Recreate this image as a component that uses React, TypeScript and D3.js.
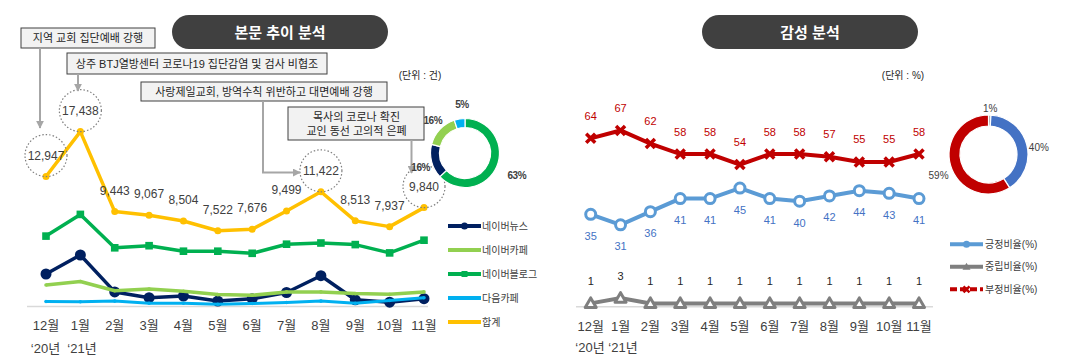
import * as d3 from "d3";

// months shown on both charts
const months = ["12월", "1월", "2월", "3월", "4월", "5월", "6월", "7월", "8월", "9월", "10월", "11월"];
const yearLabels = ["‘20년", "‘21년"];

// 본문 추이 (건)
const totalCounts = [12947, 17438, 9443, 9067, 8504, 7522, 7676, 9499, 11422, 8513, 7937, 9840];
const blogCounts = [6990, 9160, 5820, 6030, 5480, 5480, 5270, 6180, 6300, 6140, 5310, 6580];
const newsCounts = [3200, 5100, 1410, 830, 1000, 490, 730, 1350, 3030, 620, 380, 730];
const cafeCounts = [2100, 2450, 1520, 1690, 1480, 1140, 1070, 1410, 1410, 1240, 1170, 1410];
const daumCounts = [450, 420, 490, 280, 280, 180, 250, 350, 490, 280, 560, 830];
const circledIdx = [0, 1, 8, 11];

const sourceNames = ["네이버블로그", "네이버뉴스", "네이버카페", "다음카페"];
const sourceShare = [63, 16, 16, 5];

// 감성 분석 (%)
const positiveRate = [35, 31, 36, 41, 41, 45, 41, 40, 42, 44, 43, 41];
const neutralRate = [1, 3, 1, 1, 1, 1, 1, 1, 1, 1, 1, 1];
const negativeRate = [64, 67, 62, 58, 58, 54, 58, 58, 57, 55, 55, 58];

const sentimentNames = ["중립", "긍정", "부정"];
const sentimentShare = [1, 40, 59];

const annotations = [
  "지역 교회 집단예배 강행",
  "상주 BTJ열방센터 코로나19 집단감염 및 검사 비협조",
  "사랑제일교회, 방역수칙 위반하고 대면예배 강행",
  ["목사의 코로나 확진", "교인 동선 고의적 은폐"],
];

const FONT = "'Liberation Sans', Arial, 'Noto Sans CJK KR', sans-serif";
const TXT = "#404040";

const xL = d3.scalePoint<string>().domain(months).range([46, 424]);
const yL = d3.scaleLinear().domain([0, 18000]).range([306, 126]);
const xR = d3.scalePoint<string>().domain(months).range([590.7, 919]);
const yR = d3.scaleLinear().domain([0, 70]).range([306, 122.6]);

const lineL = d3.line<number>().x((_, i) => xL(months[i])!).y((d) => yL(d));
const lineR = d3.line<number>().x((_, i) => xR(months[i])!).y((d) => yR(d));

const leftSeries = [
  { name: "네이버뉴스", color: "#002060", values: newsCounts, marker: "circle" },
  { name: "네이버카페", color: "#92D050", values: cafeCounts, marker: "dot" },
  { name: "네이버블로그", color: "#00B050", values: blogCounts, marker: "square" },
  { name: "다음카페", color: "#00B0F0", values: daumCounts, marker: "dot" },
  { name: "합계", color: "#FFC000", values: totalCounts, marker: "small" },
];

const sourceColors = ["#00B050", "#002060", "#92D050", "#00B0F0"];
const sentimentColors = ["#A6A6A6", "#4472C4", "#C00000"];

function Marker({ kind, x, y, color }: { kind: string; x: number; y: number; color: string }) {
  if (kind === "circle") return <circle cx={x} cy={y} r={5.5} fill={color} />;
  if (kind === "square") return <rect x={x - 3.8} y={y - 3.8} width={7.6} height={7.6} fill={color} />;
  if (kind === "small") return <circle cx={x} cy={y} r={3.5} fill={color} />;
  if (kind === "dot") return <circle cx={x} cy={y} r={1.8} fill={color} />;
  if (kind === "ring") return <circle cx={x} cy={y} r={5} fill="#fff" stroke={color} strokeWidth={3} />;
  if (kind === "tri")
    return (
      <path
        d={`M${x},${y - 5.5}L${x + 5.5},${y + 4}L${x - 5.5},${y + 4}Z`}
        fill="#fff"
        stroke={color}
        strokeWidth={3}
        strokeLinejoin="round"
      />
    );
  if (kind === "x")
    return (
      <path
        d={`M${x - 4.5},${y - 4.5}L${x + 4.5},${y + 4.5}M${x + 4.5},${y - 4.5}L${x - 4.5},${y + 4.5}`}
        stroke={color}
        strokeWidth={3.5}
      />
    );
  return null;
}

function Donut({
  cx, cy, inner, outer, values, colors, labelR, bold, dx, dy,
}: {
  cx: number; cy: number; inner: number; outer: number; values: number[]; colors: string[];
  labelR: number; bold: boolean; dx: number; dy: number;
}) {
  const arcs = d3.pie<number>().sort(null).value((d) => d)(values);
  const arc = d3.arc<d3.PieArcDatum<number>>().innerRadius(inner).outerRadius(outer);
  const labelArc = d3.arc<d3.PieArcDatum<number>>().innerRadius(labelR).outerRadius(labelR);
  return (
    <g transform={`translate(${cx},${cy})`}>
      {arcs.map((a, i) => (
        <path key={i} d={arc(a)!} fill={colors[i]} stroke="#fff" strokeWidth={1.2} />
      ))}
      {arcs.map((a, i) => {
        const [lx, ly] = labelArc.centroid(a);
        return (
          <text
            key={"t" + i}
            x={lx + dx}
            y={ly + dy}
            textAnchor="middle"
            dominantBaseline="central"
            fontSize={10}
            fontWeight={bold ? 700 : 400}
            fill={TXT}
            letterSpacing={bold ? -0.5 : 0}
          >
            {a.data}%
          </text>
        );
      })}
    </g>
  );
}

function Pill({ x, w, label }: { x: number; w: number; label: string }) {
  return (
    <g>
      <rect x={x} y={15} width={w} height={34} rx={17} fill="#404040" />
      <text x={x + w / 2} y={32} textAnchor="middle" dominantBaseline="central" fill="#fff" fontSize={15} fontWeight={700}>
        {label}
      </text>
    </g>
  );
}

export default function App() {
  const arrowGray = "#A6A6A6";
  return (
    <div style={{ position: "fixed", left: 0, top: 0 }}>
      <svg width={1072} height={361} fontFamily={FONT} style={{ display: "block", background: "#fff" }}>
        <defs>
          <marker id="ah" viewBox="0 0 10 10" refX={9} refY={5} markerWidth={4} markerHeight={4} orient="auto">
            <path d="M0,0L10,5L0,10Z" fill={arrowGray} />
          </marker>
        </defs>

        <Pill x={172} w={216} label="본문 추이 분석" />
        <Pill x={702} w={216} label="감성 분석" />

        {/* ---------- LEFT CHART ---------- */}
        <text x={420} y={75} textAnchor="middle" dominantBaseline="central" fontSize={10} fill="#262626">(단위 : 건)</text>

        <line x1={27} x2={428} y1={306.5} y2={306.5} stroke="#D9D9D9" strokeWidth={1.5} />

        {months.map((m) => (
          <text key={m} x={xL(m)} y={325} textAnchor="middle" dominantBaseline="central" fontSize={13} fill={TXT}>
            {m}
          </text>
        ))}
        <text x={45.5} y={348} textAnchor="middle" dominantBaseline="central" fontSize={13} fill={TXT}>{yearLabels[0]}</text>
        <text x={82} y={348} textAnchor="middle" dominantBaseline="central" fontSize={13} fill={TXT}>{yearLabels[1]}</text>

        {leftSeries.map((s) => (
          <g key={s.name}>
            <path d={lineL(s.values)!} fill="none" stroke={s.color} strokeWidth={s.name === "다음카페" ? 3 : 3.5} strokeLinejoin="round" />
            {s.values.map((v, i) => (
              <Marker key={i} kind={s.marker} x={xL(months[i])!} y={yL(v)} color={s.color} />
            ))}
          </g>
        ))}

        {totalCounts.map((v, i) => (
          <g key={"lab" + i}>
            {circledIdx.includes(i) && (
              <circle cx={xL(months[i])} cy={yL(v) - 21} r={21} fill="none" stroke="#7F7F7F" strokeWidth={1.2} strokeDasharray="1.5 2" />
            )}
            <text x={xL(months[i])} y={yL(v) - 21} textAnchor="middle" dominantBaseline="central" fontSize={12} fill={TXT}>
              {d3.format(",")(v)}
            </text>
          </g>
        ))}

        {/* annotations */}
        <rect x={21} y={28} width={134} height={20} fill="#F2F2F2" stroke="#404040" strokeWidth={1} />
        <text x={88} y={38} textAnchor="middle" dominantBaseline="central" fontSize={11} fill="#262626">{annotations[0] as string}</text>
        <path d="M40,48V128" stroke={arrowGray} strokeWidth={2} markerEnd="url(#ah)" />

        <rect x={67} y={53} width={260} height={21} fill="#F2F2F2" stroke="#404040" strokeWidth={1} />
        <text x={197} y={63.5} textAnchor="middle" dominantBaseline="central" fontSize={11} fill="#262626">{annotations[1] as string}</text>
        <path d="M78,74V91" stroke={arrowGray} strokeWidth={2} markerEnd="url(#ah)" />

        <rect x={141} y={82} width={246} height={19} fill="#F2F2F2" stroke="#404040" strokeWidth={1} />
        <text x={264} y={91.5} textAnchor="middle" dominantBaseline="central" fontSize={11} fill="#262626">{annotations[2] as string}</text>
        <path d="M263,101V172.5H300" fill="none" stroke={arrowGray} strokeWidth={2} markerEnd="url(#ah)" />

        <rect x={288} y={107} width={136} height={33} fill="#F2F2F2" stroke="#404040" strokeWidth={1} />
        <text x={356.5} y={116.5} textAnchor="middle" dominantBaseline="central" fontSize={11} fill="#262626">{(annotations[3] as string[])[0]}</text>
        <text x={356.5} y={131} textAnchor="middle" dominantBaseline="central" fontSize={11} fill="#262626">{(annotations[3] as string[])[1]}</text>
        <path d="M411.5,140V173" stroke={arrowGray} strokeWidth={2} markerEnd="url(#ah)" />

        <Donut cx={465} cy={153} inner={25.5} outer={34.5} values={sourceShare} colors={sourceColors} labelR={51} bold dx={5} dy={2} />

        {/* left legend */}
        {leftSeries.map((s, i) => {
          const y = 226 + i * 24;
          return (
            <g key={"lg" + s.name}>
              <line x1={448} x2={481} y1={y} y2={y} stroke={s.color} strokeWidth={4} />
              {s.marker === "circle" && <circle cx={464.5} cy={y} r={3.5} fill={s.color} />}
              {s.marker === "square" && <rect x={461.5} y={y - 3} width={6} height={6} fill={s.color} />}
              <text x={482} y={y} dominantBaseline="central" fontSize={10} fill={TXT}>{s.name}</text>
            </g>
          );
        })}

        {/* ---------- RIGHT CHART ---------- */}
        <text x={903} y={75} textAnchor="middle" dominantBaseline="central" fontSize={10} fill="#262626">(단위 : %)</text>

        <line x1={576} x2={933} y1={306.7} y2={306.7} stroke="#D9D9D9" strokeWidth={1.5} />

        {months.map((m) => (
          <text key={"r" + m} x={xR(m)} y={326} textAnchor="middle" dominantBaseline="central" fontSize={13} fill={TXT}>
            {m}
          </text>
        ))}
        <text x={590} y={347} textAnchor="middle" dominantBaseline="central" fontSize={13} fill={TXT}>{yearLabels[0]}</text>
        <text x={623} y={347} textAnchor="middle" dominantBaseline="central" fontSize={13} fill={TXT}>{yearLabels[1]}</text>

        <path d={lineR(neutralRate)!} fill="none" stroke="#7F7F7F" strokeWidth={4} />
        {neutralRate.map((v, i) => (
          <g key={"n" + i}>
            <Marker kind="tri" x={xR(months[i])!} y={yR(v)} color="#7F7F7F" />
            <text x={xR(months[i])} y={yR(v) - 22} textAnchor="middle" dominantBaseline="central" fontSize={11} fill="#262626">{v}</text>
          </g>
        ))}

        <path d={lineR(positiveRate)!} fill="none" stroke="#5B9BD5" strokeWidth={4} />
        {positiveRate.map((v, i) => (
          <g key={"p" + i}>
            <Marker kind="ring" x={xR(months[i])!} y={yR(v)} color="#5B9BD5" />
            <text x={xR(months[i])} y={yR(v) + 21.5} textAnchor="middle" dominantBaseline="central" fontSize={11} fill="#4472C4">{v}</text>
          </g>
        ))}

        <path d={lineR(negativeRate)!} fill="none" stroke="#C00000" strokeWidth={4} />
        {negativeRate.map((v, i) => (
          <g key={"g" + i}>
            <Marker kind="x" x={xR(months[i])!} y={yR(v)} color="#C00000" />
            <text x={xR(months[i])} y={yR(v) - 22.5} textAnchor="middle" dominantBaseline="central" fontSize={11} fill="#C00000">{v}</text>
          </g>
        ))}

        <Donut cx={988.5} cy={154.5} inner={28.5} outer={39.5} values={sentimentShare} colors={sentimentColors} labelR={52} bold={false} dx={0} dy={6} />

        {/* right legend */}
        {[
          { name: "긍정비율(%)", color: "#5B9BD5", kind: "c", dash: undefined },
          { name: "중립비율(%)", color: "#7F7F7F", kind: "t", dash: undefined },
          { name: "부정비율(%)", color: "#C00000", kind: "x", dash: "7 3" },
        ].map((s, i) => {
          const y = 244.3 + i * 22.5;
          return (
            <g key={"rl" + i}>
              <line x1={950} x2={983} y1={y} y2={y} stroke={s.color} strokeWidth={4} strokeDasharray={s.dash} />
              {s.kind === "c" && <circle cx={966.5} cy={y} r={3.5} fill={s.color} />}
              {s.kind === "t" && <path d={`M966.5,${y - 4}L970.5,${y + 3}L962.5,${y + 3}Z`} fill={s.color} />}
              {s.kind === "x" && <path d={`M963.5,${y - 3}L969.5,${y + 3}M969.5,${y - 3}L963.5,${y + 3}`} stroke={s.color} strokeWidth={2.5} />}
              <text x={985} y={y} dominantBaseline="central" fontSize={10} fill={TXT}>{s.name}</text>
            </g>
          );
        })}
      </svg>
    </div>
  );
}
